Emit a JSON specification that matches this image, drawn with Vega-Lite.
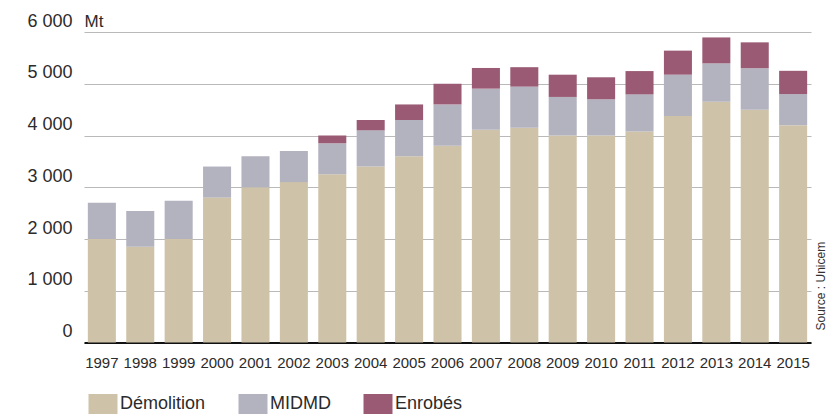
{
  "$schema": "https://vega.github.io/schema/vega-lite/v6.json",
  "width": 727,
  "height": 310.5,
  "autosize": "none",
  "padding": {"left": 84, "top": 32, "right": 25, "bottom": 71.5},
  "background": "white",
  "title": {
    "text": "Source : Unicem",
    "orient": "right",
    "anchor": "end",
    "frame": "group",
    "angle": -90,
    "align": "left",
    "baseline": "middle",
    "offset": 4,
    "dx": 12,
    "dy": -6,
    "fontSize": 12,
    "font": "Liberation Sans",
    "fontWeight": "normal",
    "color": "#333333"
  },
  "data": {
    "values": [
      {"annee": "1997", "type": "Démolition", "rang": 1, "valeur": 2000},
      {"annee": "1997", "type": "MIDMD", "rang": 2, "valeur": 700},
      {"annee": "1997", "type": "Enrobés", "rang": 3, "valeur": 0},
      {"annee": "1998", "type": "Démolition", "rang": 1, "valeur": 1850},
      {"annee": "1998", "type": "MIDMD", "rang": 2, "valeur": 690},
      {"annee": "1998", "type": "Enrobés", "rang": 3, "valeur": 0},
      {"annee": "1999", "type": "Démolition", "rang": 1, "valeur": 2000},
      {"annee": "1999", "type": "MIDMD", "rang": 2, "valeur": 740},
      {"annee": "1999", "type": "Enrobés", "rang": 3, "valeur": 0},
      {"annee": "2000", "type": "Démolition", "rang": 1, "valeur": 2800},
      {"annee": "2000", "type": "MIDMD", "rang": 2, "valeur": 600},
      {"annee": "2000", "type": "Enrobés", "rang": 3, "valeur": 0},
      {"annee": "2001", "type": "Démolition", "rang": 1, "valeur": 3000},
      {"annee": "2001", "type": "MIDMD", "rang": 2, "valeur": 600},
      {"annee": "2001", "type": "Enrobés", "rang": 3, "valeur": 0},
      {"annee": "2002", "type": "Démolition", "rang": 1, "valeur": 3100},
      {"annee": "2002", "type": "MIDMD", "rang": 2, "valeur": 600},
      {"annee": "2002", "type": "Enrobés", "rang": 3, "valeur": 0},
      {"annee": "2003", "type": "Démolition", "rang": 1, "valeur": 3250},
      {"annee": "2003", "type": "MIDMD", "rang": 2, "valeur": 600},
      {"annee": "2003", "type": "Enrobés", "rang": 3, "valeur": 150},
      {"annee": "2004", "type": "Démolition", "rang": 1, "valeur": 3400},
      {"annee": "2004", "type": "MIDMD", "rang": 2, "valeur": 700},
      {"annee": "2004", "type": "Enrobés", "rang": 3, "valeur": 200},
      {"annee": "2005", "type": "Démolition", "rang": 1, "valeur": 3600},
      {"annee": "2005", "type": "MIDMD", "rang": 2, "valeur": 700},
      {"annee": "2005", "type": "Enrobés", "rang": 3, "valeur": 300},
      {"annee": "2006", "type": "Démolition", "rang": 1, "valeur": 3800},
      {"annee": "2006", "type": "MIDMD", "rang": 2, "valeur": 800},
      {"annee": "2006", "type": "Enrobés", "rang": 3, "valeur": 400},
      {"annee": "2007", "type": "Démolition", "rang": 1, "valeur": 4110},
      {"annee": "2007", "type": "MIDMD", "rang": 2, "valeur": 795},
      {"annee": "2007", "type": "Enrobés", "rang": 3, "valeur": 400},
      {"annee": "2008", "type": "Démolition", "rang": 1, "valeur": 4150},
      {"annee": "2008", "type": "MIDMD", "rang": 2, "valeur": 795},
      {"annee": "2008", "type": "Enrobés", "rang": 3, "valeur": 375},
      {"annee": "2009", "type": "Démolition", "rang": 1, "valeur": 4000},
      {"annee": "2009", "type": "MIDMD", "rang": 2, "valeur": 745},
      {"annee": "2009", "type": "Enrobés", "rang": 3, "valeur": 430},
      {"annee": "2010", "type": "Démolition", "rang": 1, "valeur": 4000},
      {"annee": "2010", "type": "MIDMD", "rang": 2, "valeur": 700},
      {"annee": "2010", "type": "Enrobés", "rang": 3, "valeur": 425},
      {"annee": "2011", "type": "Démolition", "rang": 1, "valeur": 4075},
      {"annee": "2011", "type": "MIDMD", "rang": 2, "valeur": 720},
      {"annee": "2011", "type": "Enrobés", "rang": 3, "valeur": 450},
      {"annee": "2012", "type": "Démolition", "rang": 1, "valeur": 4375},
      {"annee": "2012", "type": "MIDMD", "rang": 2, "valeur": 800},
      {"annee": "2012", "type": "Enrobés", "rang": 3, "valeur": 465},
      {"annee": "2013", "type": "Démolition", "rang": 1, "valeur": 4650},
      {"annee": "2013", "type": "MIDMD", "rang": 2, "valeur": 745},
      {"annee": "2013", "type": "Enrobés", "rang": 3, "valeur": 500},
      {"annee": "2014", "type": "Démolition", "rang": 1, "valeur": 4500},
      {"annee": "2014", "type": "MIDMD", "rang": 2, "valeur": 800},
      {"annee": "2014", "type": "Enrobés", "rang": 3, "valeur": 500},
      {"annee": "2015", "type": "Démolition", "rang": 1, "valeur": 4200},
      {"annee": "2015", "type": "MIDMD", "rang": 2, "valeur": 600},
      {"annee": "2015", "type": "Enrobés", "rang": 3, "valeur": 450}
    ]
  },
  "mark": {"type": "bar"},
  "encoding": {
    "x": {
      "field": "annee",
      "type": "ordinal",
      "scale": {"paddingInner": 0.27, "paddingOuter": 0.1},
      "axis": {
        "title": null,
        "labelAngle": 0,
        "labelFont": "Liberation Sans",
        "labelFontSize": 15,
        "labelColor": "#2b2b2b",
        "labelPadding": 13,
        "ticks": false,
        "domainColor": "#111111",
        "domainWidth": 2.2,
        "grid": false
      }
    },
    "y": {
      "field": "valeur",
      "type": "quantitative",
      "stack": "zero",
      "scale": {"domain": [0, 6000], "nice": false},
      "axis": {
        "values": [0, 1000, 2000, 3000, 4000, 5000, 6000],
        "labelExpr": "replace(format(datum.value, ','), ',', ' ')",
        "title": "Mt",
        "titleAngle": 0,
        "titleX": 0,
        "titleY": -6,
        "titleAlign": "left",
        "titleBaseline": "alphabetic",
        "titleFont": "Liberation Sans",
        "titleFontSize": 17,
        "titleFontWeight": "normal",
        "titleColor": "#2b2b2b",
        "labelFont": "Liberation Sans",
        "labelFontSize": 18,
        "labelColor": "#2b2b2b",
        "labelBaseline": "alphabetic",
        "labelOffset": -6,
        "labelPadding": 12,
        "ticks": false,
        "domain": false,
        "grid": true,
        "gridColor": "#b9b9b9",
        "gridWidth": 1.2
      }
    },
    "color": {
      "field": "type",
      "type": "nominal",
      "scale": {
        "domain": ["Démolition", "MIDMD", "Enrobés"],
        "range": ["#cec2a8", "#b3b2bf", "#9a5a74"]
      },
      "legend": {
        "title": null,
        "orient": "none",
        "direction": "horizontal",
        "legendX": 9,
        "legendY": 362,
        "columns": 3,
        "columnPadding": 32,
        "symbolType": "M-1.45,-1H1.45V1H-1.45Z",
        "symbolSize": 400,
        "symbolStrokeWidth": 0,
        "symbolOpacity": 1,
        "labelFont": "Liberation Sans",
        "labelFontSize": 18,
        "labelColor": "#2b2b2b",
        "labelOffset": 7,
        "padding": 0
      }
    },
    "order": {"field": "rang", "type": "quantitative", "sort": "ascending"}
  },
  "config": {
    "view": {"stroke": null},
    "font": "Liberation Sans"
  }
}
